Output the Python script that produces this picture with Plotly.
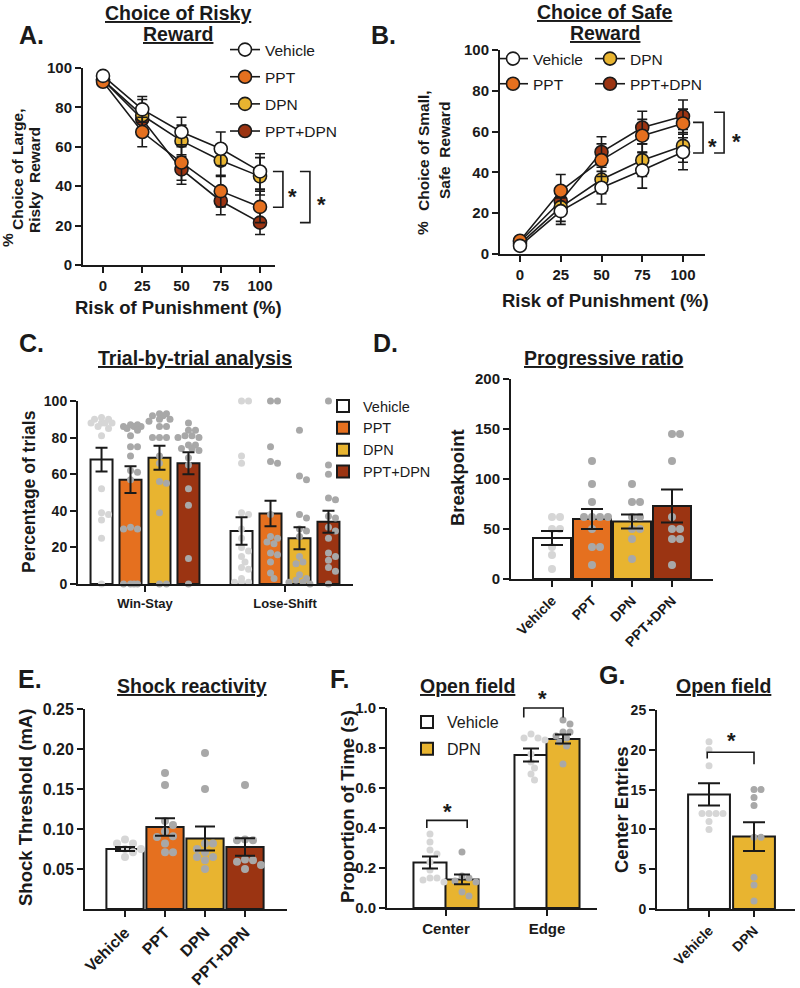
import plotly.graph_objects as go

W, H = 800, 988
FONT = "Liberation Sans, Arial, Helvetica, sans-serif"
INK = "#1a1a1a"

# ---------------- data ----------------
groups = ["Vehicle", "PPT", "DPN", "PPT+DPN"]
group_colors = ["#FFFFFF", "#E5701F", "#E8B430", "#9B3412"]
dot_colors = ["#D6D6D6", "#A8A8A8", "#A8A8A8", "#A8A8A8"]

risk_levels = [0, 25, 50, 75, 100]

# Panel A: choice of large, risky reward (%)
a_vehicle = [96, 79, 67.5, 59, 47.5]
a_ppt = [93, 67.5, 52, 37.5, 29.5]
a_dpn = [94, 76, 63, 53, 45]
a_combo = [94, 74, 48.5, 32.5, 21.5]
a_vehicle_sem = [1.5, 6.5, 7.5, 8.5, 9]
a_ppt_sem = [2, 7.5, 9, 8, 8]
a_dpn_sem = [2, 8, 8, 8, 9.5]
a_combo_sem = [2, 7, 7.5, 7, 6]

# Panel B: choice of small, safe reward (%)
b_vehicle = [4, 21, 32.5, 41, 50]
b_ppt = [6.5, 31, 46, 58, 64]
b_dpn = [5, 23, 36.5, 46, 53]
b_combo = [6, 26, 50, 62, 67.5]
b_vehicle_sem = [1.5, 6.5, 8, 8.7, 8.7]
b_ppt_sem = [1.5, 8, 8, 8, 7]
b_dpn_sem = [1.5, 7, 7, 8, 8]
b_combo_sem = [1.5, 7, 7.5, 8, 8]

# Panel C: trial-by-trial analysis
c_conditions = ["Win-Stay", "Lose-Shift"]
c_winstay_mean = [68, 57, 69, 66]
c_winstay_sem = [6.5, 7.3, 6.5, 6]
c_loseshift_mean = [29, 38.5, 25, 34]
c_loseshift_sem = [7.5, 7, 6, 6]
c_winstay_vehicle = [91, 90, 90, 88, 88, 88, 88, 86, 85, 81, 52, 39, 38, 35, 25, 0]
c_winstay_ppt = [87, 87, 86, 86, 86, 85, 84, 81, 75, 75, 70, 62, 61, 57, 31, 30, 30, 0, 0, 0, 0]
c_winstay_dpn = [93, 93, 92, 92, 90, 90, 89, 86, 86, 80, 80, 80, 70, 66, 56, 55, 39, 0, 0]
c_winstay_combo = [88, 84, 84, 81, 81, 80, 80, 76, 76, 74, 74, 73, 69, 65, 52, 43, 14, 0]
c_loseshift_vehicle = [100, 100, 70, 66, 39, 38, 30, 25, 20, 18, 15, 12, 9, 8, 3, 1, 1, 1]
c_loseshift_ppt = [100, 100, 75, 67, 66, 38, 26, 25, 23, 22, 17, 16, 12, 6, 3]
c_loseshift_dpn = [84, 59, 57, 38, 36, 30, 29, 26, 15, 12, 11, 5, 3, 2, 1, 1, 0]
c_loseshift_combo = [100, 65, 60, 47, 46, 37, 36, 31, 29, 25, 17, 15, 13, 9, 7, 0]

# Panel D: progressive ratio breakpoint
d_mean = [41, 60, 57.5, 73]
d_sem = [7, 10, 7, 16.5]
d_vehicle = [62, 62, 50, 50, 32, 24, 10]
d_ppt = [118, 95, 77, 62, 62, 62, 62, 50, 32, 32, 14]
d_dpn = [95, 77, 77, 62, 62, 50, 50, 40, 20]
d_combo = [145, 145, 118, 62, 50, 50, 40, 40, 14]

# Panel E: shock threshold (mA)
e_mean = [0.075, 0.1025, 0.088, 0.0775]
e_sem = [0.0025, 0.011, 0.015, 0.011]
e_vehicle = [0.082, 0.065, 0.075, 0.082, 0.071, 0.087, 0.075]
e_ppt = [0.17, 0.155, 0.11, 0.105, 0.097, 0.091, 0.09, 0.082, 0.071, 0.071]
e_dpn = [0.195, 0.15, 0.082, 0.082, 0.075, 0.071, 0.065, 0.065, 0.061, 0.05]
e_combo = [0.155, 0.087, 0.086, 0.086, 0.062, 0.061, 0.059, 0.055, 0.05]

# Panel F: open field, proportion of time
f_regions = ["Center", "Edge"]
f_groups = ["Vehicle", "DPN"]
f_vehicle_mean = [0.227, 0.765]
f_vehicle_sem = [0.03, 0.032]
f_dpn_mean = [0.143, 0.845]
f_dpn_sem = [0.024, 0.022]
f_center_vehicle = [0.37, 0.33, 0.29, 0.27, 0.23, 0.19, 0.15, 0.15, 0.14, 0.13]
f_center_dpn = [0.28, 0.16, 0.15, 0.135, 0.13, 0.08, 0.06]
f_edge_vehicle = [0.87, 0.85, 0.85, 0.84, 0.77, 0.73, 0.70, 0.67, 0.64]
f_edge_dpn = [0.94, 0.92, 0.88, 0.88, 0.86, 0.85, 0.83, 0.81, 0.72]

# Panel G: open field, center entries
g_groups = ["Vehicle", "DPN"]
g_mean = [14.4, 9.1]
g_sem = [1.4, 1.8]
g_vehicle = [21, 20, 18, 12, 12, 12, 12, 11, 10]
g_dpn = [15, 15, 14, 13, 9, 9, 4, 3, 1]

# ---------------- layout geometry (pixels) ----------------
PANELS = {
    "A": dict(ax="", xpx=(83, 275), ypx=(68, 265), xr=(-12.74, 109.55), yr=(0, 100)),
    "B": dict(ax="2", xpx=(500, 705), ypx=(50, 254), xr=(-12.27, 113.5), yr=(0, 100)),
    "C": dict(ax="3", xpx=(78, 353), ypx=(401, 584), xr=(-0.4786, 1.4857), yr=(0, 100)),
    "D": dict(ax="4", xpx=(511, 713), ypx=(379, 579), xr=(-1.025, 4.025), yr=(0, 200)),
    "E": dict(ax="5", xpx=(85, 287), ypx=(709, 909), xr=(-1.0, 4.05), yr=(0, 0.25)),
    "F": dict(ax="6", xpx=(387, 597), ypx=(708, 908), xr=(-0.584, 1.495), yr=(0, 1.0)),
    "G": dict(ax="7", xpx=(657, 795), ypx=(710, 909), xr=(-1.156, 1.911), yr=(0, 25)),
}


def px_scale(p):
    P = PANELS[p]
    sx = (P["xpx"][1] - P["xpx"][0]) / (P["xr"][1] - P["xr"][0])
    sy = (P["ypx"][1] - P["ypx"][0]) / (P["yr"][1] - P["yr"][0])
    return sx, sy


def to_paper(p, xv, yv):
    P = PANELS[p]
    fx = (xv - P["xr"][0]) / (P["xr"][1] - P["xr"][0])
    fy = (yv - P["yr"][0]) / (P["yr"][1] - P["yr"][0])
    x0, x1 = P["xpx"][0] / W, P["xpx"][1] / W
    y0, y1 = 1 - P["ypx"][1] / H, 1 - P["ypx"][0] / H
    return x0 + fx * (x1 - x0), y0 + fy * (y1 - y0)


def swarm(values, p, dot_px, max_half_px):
    sx, sy = px_scale(p)
    order = sorted(range(len(values)), key=lambda i: -values[i])
    cands = [0.0]
    k = 1
    while k * dot_px / 2 <= max_half_px + 1e-9:
        cands += [k * dot_px / 2, -k * dot_px / 2]
        k += 1
    placed, out = [], [0.0] * len(values)
    for i in order:
        y = values[i] * sy
        best, best_d = 0.0, -1
        for c in cands:
            d = min([((c - a) ** 2 + (y - b) ** 2) ** 0.5 for a, b in placed] or [1e9])
            if d >= dot_px * 0.92:
                best = c
                break
            if d > best_d:
                best_d, best = d, c
        placed.append((best, y))
        out[i] = best / sx
    return out


fig = go.Figure()


def axes(p):
    a = PANELS[p]["ax"]
    return "x" + a, "y" + a


# ---------------- A & B line charts ----------------
line_sets = {
    "A": ([a_vehicle, a_ppt, a_dpn, a_combo], [a_vehicle_sem, a_ppt_sem, a_dpn_sem, a_combo_sem]),
    "B": ([b_vehicle, b_ppt, b_dpn, b_combo], [b_vehicle_sem, b_ppt_sem, b_dpn_sem, b_combo_sem]),
}
for p, (means, sems) in line_sets.items():
    xa, ya = axes(p)
    for k in [3, 2, 1, 0]:
        if p == "A":
            leg = "legend"
        else:
            leg = "legend2" if k in (0, 1) else "legend3"
        fig.add_trace(go.Scatter(
            x=risk_levels, y=means[k], xaxis=xa, yaxis=ya, name=groups[k],
            mode="lines+markers", legend=leg, legendrank=k + 1,
            legendgroup=p + groups[k],
            line=dict(color=INK, width=1.6),
            marker=dict(size=13, color=group_colors[k], line=dict(color=INK, width=1.6)),
            error_y=dict(type="data", array=sems[k], color=INK, thickness=1.6, width=5),
            cliponaxis=False,
        ))


# ---------------- bar helper ----------------
def bar_block(p, xs, means, sems, color, width, name=None, legend=None, cap=6, rank=1):
    xa, ya = axes(p)
    fig.add_trace(go.Bar(
        x=xs, y=means, width=width, xaxis=xa, yaxis=ya,
        marker=dict(color=color, line=dict(color=INK, width=2)),
        name=name, showlegend=legend is not None, legend=legend or "legend",
        legendrank=rank, legendgroup=(p + str(name)),
    ))
    return dict(xa=xa, ya=ya, xs=xs, means=means, sems=sems, cap=cap)


def dots(p, center, values, color, dot_px, max_half):
    xa, ya = axes(p)
    offs = swarm(values, p, dot_px, max_half)
    fig.add_trace(go.Scatter(
        x=[center + o for o in offs], y=values, xaxis=xa, yaxis=ya, mode="markers",
        marker=dict(size=dot_px, color=color, line=dict(width=0)),
        showlegend=False, cliponaxis=False,
    ))


def errbars(eb):
    fig.add_trace(go.Scatter(
        x=eb["xs"], y=eb["means"], xaxis=eb["xa"], yaxis=eb["ya"], mode="markers",
        marker=dict(size=1, opacity=0),
        error_y=dict(type="data", array=eb["sems"], color=INK, thickness=2, width=eb["cap"]),
        showlegend=False, cliponaxis=False,
    ))


pending = []

# ---------------- C ----------------
c_step, c_w = 0.207, 0.157
c_offsets = [(k - 1.5) * c_step for k in range(4)]
c_ws_dots = [c_winstay_vehicle, c_winstay_ppt, c_winstay_dpn, c_winstay_combo]
c_ls_dots = [c_loseshift_vehicle, c_loseshift_ppt, c_loseshift_dpn, c_loseshift_combo]
for k in range(4):
    xs = [ci + c_offsets[k] for ci in range(len(c_conditions))]
    pending.append(bar_block("C", xs, [c_winstay_mean[k], c_loseshift_mean[k]],
                             [c_winstay_sem[k], c_loseshift_sem[k]], group_colors[k],
                             c_w, name=groups[k], legend="legend4", cap=6, rank=k + 1))
for k in range(4):
    dots("C", 0 + c_offsets[k], c_ws_dots[k], dot_colors[k], 7, 13)
    dots("C", 1 + c_offsets[k], c_ls_dots[k], dot_colors[k], 7, 13)

# ---------------- D ----------------
d_dots = [d_vehicle, d_ppt, d_dpn, d_combo]
pending.append(bar_block("D", list(range(4)), d_mean, d_sem, group_colors, 0.95, cap=11))
for k in range(4):
    dots("D", k, d_dots[k], dot_colors[k], 8, 16)

# ---------------- E ----------------
e_dots = [e_vehicle, e_ppt, e_dpn, e_combo]
pending.append(bar_block("E", list(range(4)), e_mean, e_sem, group_colors, 0.93, cap=10))
for k in range(4):
    dots("E", k, e_dots[k], dot_colors[k], 8, 16)

# ---------------- F ----------------
f_off, f_w = 0.1584, 0.327
f_colors = [group_colors[0], group_colors[2]]
f_dcolors = [dot_colors[0], dot_colors[2]]
f_means = [f_vehicle_mean, f_dpn_mean]
f_sems = [f_vehicle_sem, f_dpn_sem]
f_dots = [[f_center_vehicle, f_edge_vehicle], [f_center_dpn, f_edge_dpn]]
for j in range(2):
    xs = [ri + (j - 0.5) * 2 * f_off for ri in range(2)]
    pending.append(bar_block("F", xs, f_means[j], f_sems[j], f_colors[j], f_w,
                             name=f_groups[j], legend="legend5", cap=8, rank=j + 1))
for j in range(2):
    for ri in range(2):
        dots("F", ri + (j - 0.5) * 2 * f_off, f_dots[j][ri], f_dcolors[j], 7, 14)

# ---------------- G ----------------
g_colors = [group_colors[0], group_colors[2]]
g_dots = [g_vehicle, g_dpn]
pending.append(bar_block("G", [0, 1], g_mean, g_sem, g_colors, 0.93, cap=11))
for j in range(2):
    dots("G", j, g_dots[j], [dot_colors[0], dot_colors[2]][j], 7, 15)

for eb in pending:
    errbars(eb)

# ---------------- axes ----------------
def base_axis():
    return dict(showline=True, linecolor=INK, linewidth=2, ticks="outside", ticklen=6,
                tickwidth=2, tickcolor=INK, showgrid=False, zeroline=False,
                tickfont=dict(family=FONT, size=15, color=INK, weight="bold"))


axis_ticks = {
    "A": (dict(tickvals=risk_levels), dict(tickvals=[0, 20, 40, 60, 80, 100])),
    "B": (dict(tickvals=risk_levels), dict(tickvals=[0, 20, 40, 60, 80, 100])),
    "C": (dict(tickvals=[0, 1], ticktext=c_conditions, tickfont_size=13),
          dict(tickvals=[0, 20, 40, 60, 80, 100], tickfont_size=14)),
    "D": (dict(tickvals=[0, 1, 2, 3], ticktext=groups, tickangle=-45, tickfont_size=14),
          dict(tickvals=[0, 50, 100, 150, 200], tickfont_size=15)),
    "E": (dict(tickvals=[0, 1, 2, 3], ticktext=groups, tickangle=-45, tickfont_size=16),
          dict(tickvals=[0.05, 0.10, 0.15, 0.20, 0.25], tickformat=".2f", tickfont_size=16)),
    "F": (dict(tickvals=[0, 1], ticktext=f_regions, tickfont_size=15),
          dict(tickvals=[0, 0.2, 0.4, 0.6, 0.8, 1.0], tickformat=".1f", tickfont_size=15)),
    "G": (dict(tickvals=[0, 1], ticktext=g_groups, tickangle=-45, tickfont_size=14),
          dict(tickvals=[0, 5, 10, 15, 20, 25], tickfont_size=14)),
}

layout_axes = {}
for p, P in PANELS.items():
    xa = base_axis()
    ya = base_axis()
    xt, yt = axis_ticks[p]
    for d, t in ((xa, xt), (ya, yt)):
        t = dict(t)
        fs = t.pop("tickfont_size", None)
        if fs:
            d["tickfont"] = dict(d["tickfont"], size=fs)
        d.update(t)
    a = P["ax"]
    xa.update(domain=[P["xpx"][0] / W, P["xpx"][1] / W], range=list(P["xr"]),
              anchor="y" + a, fixedrange=True)
    ya.update(domain=[1 - P["ypx"][1] / H, 1 - P["ypx"][0] / H], range=list(P["yr"]),
              anchor="x" + a, fixedrange=True)
    layout_axes["xaxis" + a] = xa
    layout_axes["yaxis" + a] = ya

# ---------------- text ----------------
ann = []


def text(px, py, s, size, bold=True, angle=0, underline=False):
    t = s
    if underline:
        t = "<u>" + t + "</u>"
    if bold:
        t = "<b>" + t + "</b>"
    ann.append(dict(x=px / W, y=1 - py / H, xref="paper", yref="paper", text=t,
                    showarrow=False, textangle=angle, xanchor="center", yanchor="middle",
                    font=dict(family=FONT, size=size, color=INK)))


# panel letters
for lab, (px, py) in {"A.": (31, 35), "B.": (383, 35), "C.": (31, 343), "D.": (385, 343),
                      "E.": (30, 679), "F.": (339, 679), "G.": (612, 675)}.items():
    text(px, py, lab, 25)

# titles
text(178, 13, "Choice of Risky", 19.5, underline=True)
text(178, 34, "Reward", 19.5, underline=True)
text(605, 12, "Choice of Safe", 19.5, underline=True)
text(605, 33, "Reward", 19.5, underline=True)
text(195, 358, "Trial-by-trial analysis", 19.5, underline=True)
text(603, 358, "Progressive ratio", 19.5, underline=True)
text(192, 686, "Shock reactivity", 19.5, underline=True)
text(467, 686, "Open field", 19.5, underline=True)
text(723, 686, "Open field", 19.5, underline=True)

# axis titles
text(178, 307, "Risk of Punishment (%)", 18.5)
text(605, 300, "Risk of Punishment (%)", 18.5)
text(8, 240, "%", 15.5, angle=-90)
text(17, 170, "Choice of Large,", 15.5, angle=-90)
text(34, 180, "Risky  Reward", 15.5, angle=-90)
text(422, 228, "%", 15.5, angle=-90)
text(424, 151, "Choice of Small,", 15.5, angle=-90)
text(445, 151, "Safe  Reward", 15.5, angle=-90)
text(29, 492, "Percentage of trials", 17.5, angle=-90)
text(457, 478, "Breakpoint", 18.5, angle=-90)
text(25, 808, "Shock Threshold (mA)", 18.5, angle=-90)
text(347, 807, "Proportion of Time (s)", 18.5, angle=-90)
text(621, 810, "Center Entries", 18.5, angle=-90)

# significance brackets
shapes = []
STAR = 22


def vbracket(p, xv, arm, ytop, ybot):
    x1, y1 = to_paper(p, xv, ytop)
    _, y2 = to_paper(p, xv, ybot)
    x0 = x1 - arm / W
    shapes.append(dict(type="path", xref="paper", yref="paper",
                       path=f"M{x0},{y1} L{x1},{y1} L{x1},{y2} L{x0},{y2}",
                       line=dict(color=INK, width=1.6)))


def hbracket(p, xa_, xb_, ytop, yla, ylb):
    xa0, yt = to_paper(p, xa_, ytop)
    xb0, _ = to_paper(p, xb_, ytop)
    _, ya0 = to_paper(p, xa_, yla)
    _, yb0 = to_paper(p, xb_, ylb)
    shapes.append(dict(type="path", xref="paper", yref="paper",
                       path=f"M{xa0},{ya0} L{xa0},{yt} L{xb0},{yt} L{xb0},{yb0}",
                       line=dict(color=INK, width=1.6)))


def star(p, xv, yv, size=STAR):
    xp, yp = to_paper(p, xv, yv)
    ann.append(dict(x=xp, y=yp - 0.25 * size / H, xref="paper", yref="paper", text="<b>*</b>",
                    showarrow=False, xanchor="center", yanchor="middle",
                    font=dict(family=FONT, size=size, color=INK)))


# A: 10 px arms
vbracket("A", 114.6, 10, 47.5, 29.3)
vbracket("A", 131.8, 10, 47.5, 21.5)
star("A", 121.0, 37.5)
star("A", 138.9, 33.5)
# B
vbracket("B", 112.3, 10, 64.5, 49.5)
vbracket("B", 125.2, 10, 69.5, 49.5)
star("B", 118.4, 55.5)
star("B", 133.0, 58.0)
# F
hbracket("F", -0.19, 0.21, 0.438, 0.40, 0.40)
star("F", 0.01, 0.51)
hbracket("F", 0.77, 1.16, 1.0, 0.952, 0.952)
star("F", 0.96, 1.075)
# G
hbracket("G", -0.04, 1.0, 19.7, 18.9, 18.2)
star("G", 0.49, 21.8)

legend_common = dict(bgcolor="rgba(0,0,0,0)", borderwidth=0, xanchor="left", yanchor="top",
                     traceorder="grouped", itemclick=False, itemdoubleclick=False)

fig.update_layout(
    width=W, height=H, margin=dict(l=0, r=0, t=0, b=0, autoexpand=False),
    paper_bgcolor="white", plot_bgcolor="white",
    font=dict(family=FONT, color=INK),
    barmode="overlay",
    annotations=ann, shapes=shapes,
    legend=dict(legend_common, x=225 / W, y=1 - 33 / H, tracegroupgap=4,
                font=dict(family=FONT, size=15.5, color=INK)),
    legend2=dict(legend_common, x=493 / W, y=1 - 42 / H, tracegroupgap=2,
                 font=dict(family=FONT, size=15.5, color=INK)),
    legend3=dict(legend_common, x=590 / W, y=1 - 42 / H, tracegroupgap=2,
                 font=dict(family=FONT, size=15.5, color=INK)),
    legend4=dict(legend_common, x=323 / W, y=1 - 390 / H, tracegroupgap=0,
                 font=dict(family=FONT, size=14.5, color=INK)),
    legend5=dict(legend_common, x=407 / W, y=1 - 705 / H, tracegroupgap=3,
                 font=dict(family=FONT, size=16, color=INK)),
    **layout_axes,
)

fig.write_html("out.html")
